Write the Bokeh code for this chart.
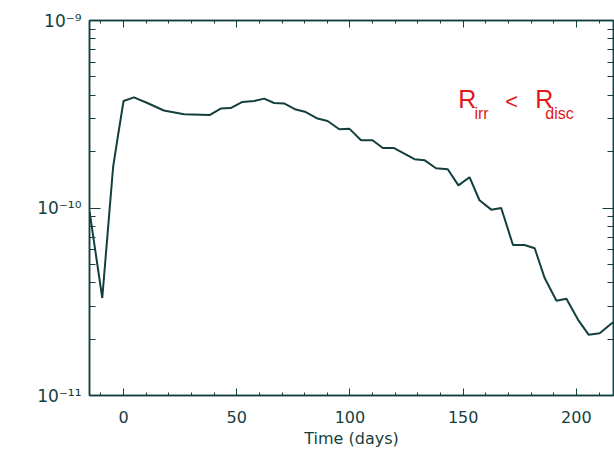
from bokeh.plotting import figure
from bokeh.models import FixedTicker, LinearAxis, LogAxis, Label, Range1d
from bokeh.embed import file_html
from bokeh.resources import INLINE

# ---- data ----
days = [-15, -9.4, -4.6, -2.8, 0.0, 4.6, 10.5, 17.8, 26.7, 38.0, 42.9, 47.3, 52.5,
        57.7, 62.1, 66.5, 70.9, 76.1, 80.5, 85.7, 90.1, 95.3, 99.7, 104.9, 110.0,
        114.5, 119.3, 124.0, 128.5, 132.9, 138.0, 143.2, 147.9, 152.8, 157.2, 162.4,
        166.8, 172.0, 177.1, 181.6, 186.0, 191.2, 195.6, 200.7, 205.4, 210.3, 215.5, 218.0]
flux = [9.55e-11, 3.31e-11, 1.66e-10, 2.29e-10, 3.72e-10, 3.89e-10, 3.63e-10, 3.31e-10,
        3.16e-10, 3.13e-10, 3.39e-10, 3.41e-10, 3.68e-10, 3.72e-10, 3.83e-10, 3.63e-10,
        3.61e-10, 3.35e-10, 3.25e-10, 3.00e-10, 2.91e-10, 2.63e-10, 2.65e-10, 2.30e-10,
        2.30e-10, 2.09e-10, 2.09e-10, 1.95e-10, 1.82e-10, 1.80e-10, 1.63e-10, 1.61e-10,
        1.32e-10, 1.46e-10, 1.10e-10, 9.8e-11, 1.0e-10, 6.35e-11, 6.35e-11, 6.1e-11,
        4.23e-11, 3.2e-11, 3.28e-11, 2.54e-11, 2.11e-11, 2.15e-11, 2.42e-11, 2.51e-11]

x_ticks = [0, 50, 100, 150, 200]
x_minor = [-10, 10, 20, 30, 40, 60, 70, 80, 90, 110, 120, 130, 140, 160, 170, 180, 190, 210]
y_ticks = [1e-11, 1e-10, 1e-9]
y_tick_labels = ["10\u207b\u00b9\u00b9", "10\u207b\u00b9\u2070", "10\u207b\u2079"]
y_minor = [k * 1e-11 for k in range(2, 10)] + [k * 1e-10 for k in range(2, 10)]
x_label = "Time (days)"

INK = "#143f3f"
RED = "#e01818"
FONT = "DejaVu Sans"
RFONT = "Liberation Sans"

p = figure(width=614, height=450, y_axis_type="log",
           x_range=Range1d(-15.04, 216.4), y_range=Range1d(1e-11, 1e-9),
           output_backend="svg", toolbar_location=None,
           min_border_left=89, min_border_right=1, min_border_top=20, min_border_bottom=54)
p.grid.visible = False
p.outline_line_color = INK
p.outline_line_width = 1.5
p.background_fill_color = "white"
p.border_fill_color = "white"

p.line(days, flux, line_color=INK, line_width=2)

xt = FixedTicker(ticks=x_ticks, minor_ticks=x_minor)
yt = FixedTicker(ticks=y_ticks, minor_ticks=y_minor)

xa = p.xaxis[0]
xa.ticker = xt
xa.axis_label = x_label
ya = p.yaxis[0]
ya.ticker = yt
ya.major_label_overrides = dict(zip(y_ticks, y_tick_labels))

for ax in (xa, ya):
    ax.axis_line_color = INK
    ax.axis_line_width = 1.5
    ax.major_tick_line_color = INK
    ax.minor_tick_line_color = INK
    ax.major_tick_out = 0
    ax.minor_tick_out = 0
    ax.major_label_text_font = FONT
    ax.major_label_text_font_size = "16px"
    ax.major_label_text_color = INK
    ax.axis_label_text_font = FONT
    ax.axis_label_text_font_size = "16px"
    ax.axis_label_text_font_style = "normal"
    ax.axis_label_text_color = INK

xa.major_tick_in = 7
xa.minor_tick_in = 3
xa.major_label_standoff = 15
xa.axis_label_standoff = 3
ya.major_tick_in = 11
ya.minor_tick_in = 6
ya.major_label_standoff = 8
ya.major_label_text_font_size = "17px"

top = LinearAxis(ticker=xt, major_label_text_font_size="1px", major_label_standoff=0,
                 major_label_text_color=None,
                 axis_line_color=INK, axis_line_width=1.5,
                 major_tick_line_color=INK, minor_tick_line_color=INK,
                 major_tick_out=0, minor_tick_out=0, major_tick_in=7, minor_tick_in=3)
p.add_layout(top, "above")
right = LogAxis(ticker=yt, major_label_text_font_size="1px", major_label_standoff=0,
                major_label_text_color=None,
                axis_line_color=INK, axis_line_width=1.5,
                major_tick_line_color=INK, minor_tick_line_color=INK,
                major_tick_out=0, minor_tick_out=0, major_tick_in=11, minor_tick_in=6)
p.add_layout(right, "right")

# annotation  R_irr < R_disc
p.add_layout(Label(x=147.8, y=3.2e-10, text="R", text_color=RED, text_font=RFONT,
                   text_font_size="25px"))
p.add_layout(Label(x=155.0, y=2.88e-10, text="irr", text_color=RED, text_font=RFONT,
                   text_font_size="16px"))
p.add_layout(Label(x=168.6, y=3.17e-10, text="<", text_color=RED, text_font=RFONT,
                   text_font_size="22px"))
p.add_layout(Label(x=181.8, y=3.2e-10, text="R", text_color=RED, text_font=RFONT,
                   text_font_size="25px"))
p.add_layout(Label(x=186.3, y=2.88e-10, text="disc", text_color=RED, text_font=RFONT,
                   text_font_size="16px"))

open("out.html", "w").write(file_html(p, INLINE))
